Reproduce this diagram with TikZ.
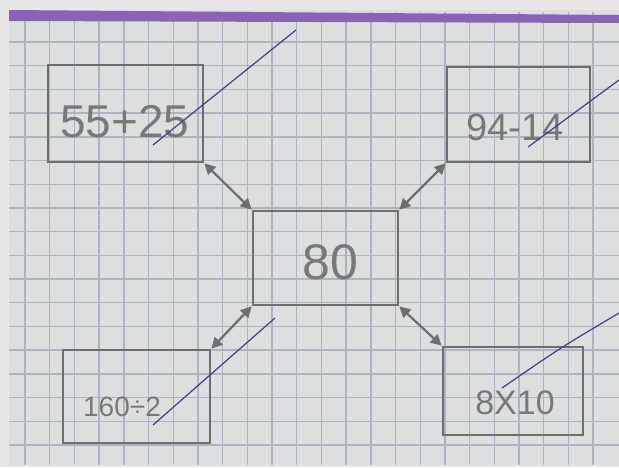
\documentclass[tikz,border=0pt]{standalone}
\usepackage{fontspec}
\setmainfont{Liberation Sans}
\usetikzlibrary{
    arrows.meta
}
\definecolor{paperbg}{HTML}{DCDFDD}
\definecolor{papertop}{HTML}{E8E6E6}
\definecolor{gridblue}{HTML}{ABB4C2}
\definecolor{bandpurple}{HTML}{8A62B6}
\definecolor{pencil}{HTML}{6E6E6E}
\definecolor{pencillight}{HTML}{787878}
\definecolor{penblue}{HTML}{3C3F8C}

\begin{document}
\begin{tikzpicture}[
    x=0.5pt,
    y=-0.5pt,
    every node/.style={text=pencillight},
    box/.style={
        rectangle,
        draw=pencil,
        line width=1.3pt,
        inner sep=0pt
    },
    hand/.style={
        font=\fontsize{#1}{#1}\selectfont,
        inner sep=0pt
    },
    arrow/.style={
        {Triangle[length=5.5pt,width=5.5pt]}-{Triangle[length=5.5pt,width=5.5pt]},
        line width=1.1pt,
        draw=pencil
    },
    gridline/.style={
        draw=gridblue,
        line width=0.7pt
    },
    strike/.style={
        draw=penblue,
        line width=0.6pt
    }
]

% =====================================================
% Paper
% =====================================================

\useasboundingbox (0,0) rectangle (619,467);
\fill[papertop] (0,0) rectangle (619,467);
\fill[paperbg] (9,10) rectangle (619,465);

\foreach \i in {0,...,23}
    \draw[gridline] ({25+24.7*\i},12) -- ({25+24.7*\i},465);
\foreach \j in {0,...,17}
    \draw[gridline] (9,{42+23.7*\j}) -- (619,{42+23.7*\j});

\fill[bandpurple] (9,10) -- (619,15) -- (619,23) -- (9,21) -- cycle;

% =====================================================
% Boxes
% =====================================================

\node[box, minimum width=77.5pt, minimum height=48.5pt] (sum) at (125.5,113.5) {};
\node[box, minimum width=71.5pt, minimum height=47.5pt] (diff) at (518.5,114.5) {};
\node[box, minimum width=72.5pt, minimum height=47pt] (result) at (325.5,258) {};
\node[box, minimum width=73.5pt, minimum height=46.5pt] (quot) at (136.5,396.5) {};
\node[box, minimum width=70pt, minimum height=44pt] (prod) at (513,391) {};

% =====================================================
% Texts
% =====================================================

\node[hand=23pt] (sumtext) at (125,122) {55+25};
\node[hand=19pt] (difftext) at (515,127) {94-14};
\node[hand=25pt] (resulttext) at (330,262) {80};
\node[hand=14pt] (quottext) at (122,407) {160÷2};
\node[hand=17pt] (prodtext) at (515,403) {8X10};

% =====================================================
% Arrows
% =====================================================

\draw[arrow] (sum.south east) -- (result.north west);
\draw[arrow] (diff.south west) -- (result.north east);
\draw[arrow] (quot.north east) -- (result.south west);
\draw[arrow] (prod.north west) -- (result.south east);

% =====================================================
% Pen strokes
% =====================================================

\draw[strike] (153,145) -- (296,30);
\draw[strike] (528,147) -- (619,80);
\draw[strike] (153,425) -- (275,318);
\draw[strike] (502,388) .. controls (560,348) .. (619,313);

\end{tikzpicture}
\end{document}
